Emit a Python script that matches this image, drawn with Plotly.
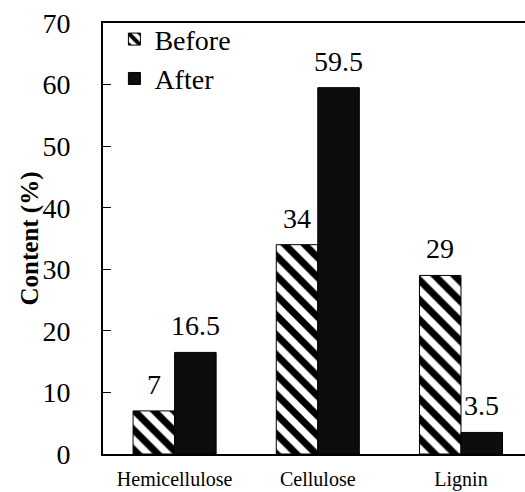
import plotly.graph_objects as go

categories = ["Hemicellulose", "Cellulose", "Lignin"]
before = [7, 34, 29]
after = [16.5, 59.5, 3.5]
before_labels = ["7", "34", "29"]
after_labels = ["16.5", "59.5", "3.5"]
y_title = "<b>Content (%)</b>"

FONT = "Liberation Serif, Times New Roman, serif"
FS = 28
BARGAP = 0.42
half = (1 - BARGAP) / 4  # half-width of one bar in category units

fig = go.Figure()
fig.add_trace(go.Bar(
    name="Before", x=categories, y=before,
    marker=dict(color="white", line=dict(color="black", width=1),
                pattern=dict(shape="\\", size=14, solidity=0.5,
                             fgcolor="black", bgcolor="white", fgopacity=1,
                             fillmode="overlay")),
))
fig.add_trace(go.Bar(
    name="After", x=categories, y=after,
    marker=dict(color="#0d0d0d", line=dict(color="black", width=1)),
))

for i, (v, t) in enumerate(zip(before, before_labels)):
    fig.add_annotation(x=i - half, y=v, text=t, showarrow=False, xref="x", yref="y",
                       yanchor="bottom", yshift=9, font=dict(size=FS, family=FONT, color="black"))
for i, (v, t) in enumerate(zip(after, after_labels)):
    fig.add_annotation(x=i + half, y=v, text=t, showarrow=False, xref="x", yref="y",
                       yanchor="bottom", yshift=9, font=dict(size=FS, family=FONT, color="black"))

fig.add_annotation(text=y_title, xref="paper", yref="paper", x=0, y=0.5,
                   xanchor="center", yanchor="middle", xshift=-74, textangle=-90,
                   showarrow=False, font=dict(size=25, family=FONT, color="black"))

fig.update_layout(
    width=525, height=492,
    margin=dict(l=103, r=0, t=23, b=38),
    paper_bgcolor="white", plot_bgcolor="white",
    barmode="group", bargap=BARGAP, bargroupgap=0,
    font=dict(family=FONT, color="black", size=FS),
    showlegend=True,
    legend=dict(x=0.027, y=1.02, xanchor="left", yanchor="top",
                bgcolor="rgba(0,0,0,0)", font=dict(size=FS, family=FONT),
                itemwidth=30, tracegroupgap=0),
    xaxis=dict(range=[-0.5, 2.447], showline=True, linecolor="black", linewidth=2,
               mirror=True, ticks="", tickfont=dict(size=20, family=FONT),
               ticklabelstandoff=6, showgrid=False, zeroline=False),
    yaxis=dict(range=[0, 70], dtick=10, showline=True, linecolor="black", linewidth=2,
               ticks="inside", ticklen=8, tickwidth=1, tickcolor="black",
               ticklabelstandoff=25,
               tickfont=dict(size=FS, family=FONT), showgrid=False, zeroline=False),
)

fig.write_html("out.html")
